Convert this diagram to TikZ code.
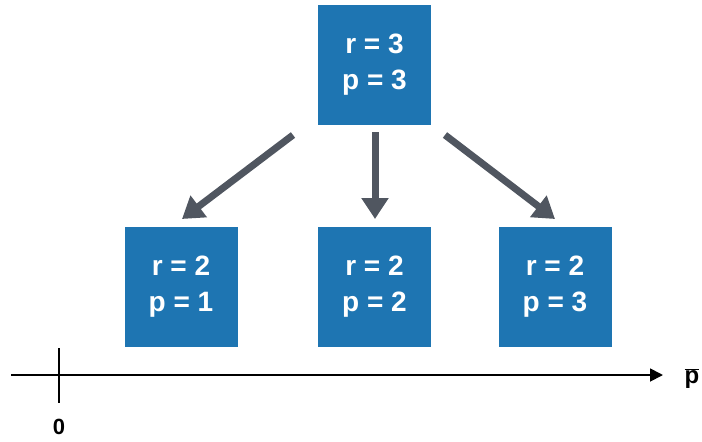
\documentclass[tikz,border=0pt]{standalone}
\usepackage{fontspec}
\setmainfont{Liberation Sans}
\usetikzlibrary{arrows.meta}
\definecolor{boxblue}{RGB}{30,117,178}
\definecolor{arrgray}{RGB}{80,86,96}
\begin{document}
\begin{tikzpicture}[x=1pt,y=-1pt,
  valbox/.style={fill=boxblue, minimum width=113pt, minimum height=120pt, inner sep=0pt,
    text=white, font=\fontsize{28}{36}\selectfont\bfseries, align=center},
  bigarrow/.style={draw=arrgray, line width=7pt, -{Triangle[length=21pt,width=26pt]}},
  axisline/.style={draw=black, line width=1.8pt}]
\useasboundingbox (0,0) rectangle (702,442);
\node[valbox] (top) at (374.5,64.5) {r = 3\\p = 3};
\node[valbox] (b1) at (181,286.5) {r = 2\\p = 1};
\node[valbox] (b2) at (374.5,286.5) {r = 2\\p = 2};
\node[valbox] (b3) at (555,286.5) {r = 2\\p = 3};
\coordinate (s1) at (293,135);
\coordinate (t1) at (182,219);
\coordinate (s2) at (375,132);
\coordinate (t2) at (375,219);
\coordinate (s3) at (445,135);
\coordinate (t3) at (555,219);
\draw[bigarrow] (s1) -- (t1);
\draw[bigarrow] (s2) -- (t2);
\draw[bigarrow] (s3) -- (t3);
\coordinate (ax0) at (11,375);
\coordinate (ax1) at (663,375);
\draw[axisline, -{Triangle[length=13pt,width=13pt]}] (ax0) -- (ax1);
\coordinate (tk0) at (59,348);
\coordinate (tk1) at (59,403);
\draw[axisline] (tk0) -- (tk1);
\node[font=\fontsize{22}{22}\selectfont\bfseries] (zero) at (59,427) {0};
\node[font=\fontsize{24}{24}\selectfont\bfseries] (pbar) at (692,379) {$\overline{\mbox{p}}$};
\end{tikzpicture}
\end{document}
